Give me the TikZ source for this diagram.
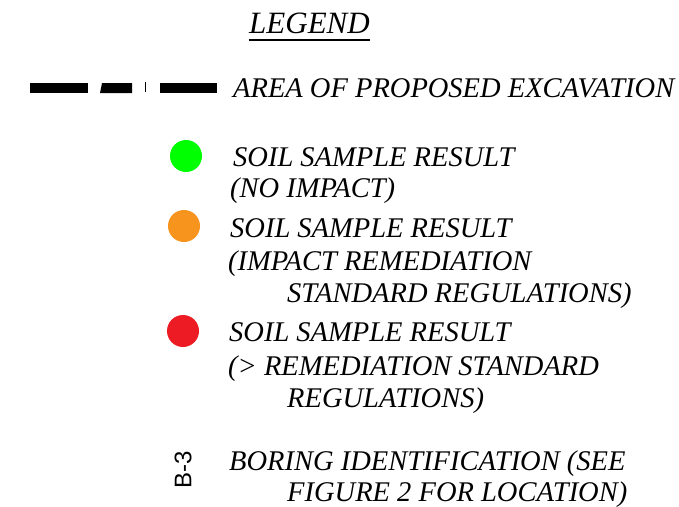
\documentclass[tikz,border=0pt]{standalone}
\usepackage{fontspec}
\setmainfont{Liberation Serif}
\setsansfont{Liberation Sans}
\begin{document}
\begin{tikzpicture}[x=1pt,y=-1pt,
  lbl/.style={anchor=base west,inner sep=0pt,font=\itshape\fontsize{28.5}{28.5}\selectfont},
  dot/.style={circle,inner sep=0pt,minimum size=32pt}]
\useasboundingbox (0,0) rectangle (679,506);
\node[lbl,font=\itshape\fontsize{31}{31}\selectfont] (title) at (249,33) {LEGEND};
\draw[line width=1.6pt] (title.south west|-0,40) -- (title.south east|-0,40);
% excavation line
\fill (30,83) rectangle (88,93);
\fill (102,83) -- (132,83) -- (132,93) -- (100,93) -- cycle;
\fill (144.5,82) rectangle (145.8,92);
\fill (160,83) rectangle (217,93);
\node[lbl] (exc) at (233,97) {AREA OF PROPOSED EXCAVATION};
% green
\node[dot,fill={rgb,255:red,0;green,255;blue,0}] (g) at (186,156) {};
\node[lbl] (g1) at (233,166) {SOIL SAMPLE RESULT};
\node[lbl] (g2) at (230,197) {(NO IMPACT)};
% orange
\node[dot,fill={rgb,255:red,247;green,148;blue,29}] (o) at (184,226) {};
\node[lbl] (o1) at (230,237) {SOIL SAMPLE RESULT};
\node[lbl] (o2) at (228,270) {(IMPACT REMEDIATION};
\node[lbl] (o3) at (287,302) {STANDARD REGULATIONS)};
% red
\node[dot,fill={rgb,255:red,237;green,28;blue,36}] (r) at (183,331) {};
\node[lbl] (r1) at (229,341) {SOIL SAMPLE RESULT};
\node[lbl] (r2) at (228,375) {(> REMEDIATION STANDARD};
\node[lbl] (r3) at (287,407) {REGULATIONS)};
% boring
\node[rotate=90,inner sep=0pt,font=\sffamily\fontsize{24}{24}\selectfont] (b) at (183,470) {B-3};
\node[lbl] (b1) at (229,470) {BORING IDENTIFICATION (SEE};
\node[lbl] (b2) at (287,501) {FIGURE 2 FOR LOCATION)};
\end{tikzpicture}
\end{document}
